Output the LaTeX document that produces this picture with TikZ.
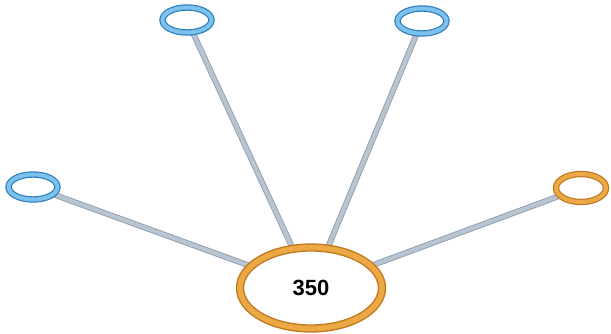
\documentclass[tikz,border=0pt]{standalone}
\usepackage{fontspec}
\setsansfont{Liberation Sans}
\usetikzlibrary{shapes.geometric}
\pgfdeclarelayer{bg}
\pgfsetlayers{bg,main}
\definecolor{bluedark}{HTML}{2F7DBD}
\definecolor{bluelight}{HTML}{7CC2EC}
\definecolor{orangedark}{HTML}{C07A1E}
\definecolor{orangelight}{HTML}{EBA845}
\definecolor{linkdark}{HTML}{8F9FAF}
\definecolor{linklight}{HTML}{B8C5D1}
\tikzset{
  bluering/.style={ellipse, draw=bluedark, line width=1.2pt, double=bluelight, double distance=4pt, fill=white, minimum width=49pt, minimum height=25pt, inner sep=0pt},
  orangering/.style={ellipse, draw=orangedark, line width=1.2pt, double=orangelight, double distance=4pt, fill=white, minimum width=50pt, minimum height=28pt, inner sep=0pt},
  hubring/.style={ellipse, draw=orangedark, line width=1.4pt, double=orangelight, double distance=5.5pt, fill=white, minimum width=142pt, minimum height=81pt, inner sep=0pt, font=\sffamily\bfseries\fontsize{22}{26}\selectfont},
  link/.style={draw=linkdark, line width=0.9pt, double=linklight, double distance=4pt}
}
\begin{document}
\begin{tikzpicture}[x=1pt,y=-1pt]
\useasboundingbox (0,0) rectangle (611,334);
\node[hubring] (hub) at (311,288) {350};
\node[bluering] (tl) at (187,20) {};
\node[bluering] (tr) at (422,21) {};
\node[bluering] (l) at (33,187) {};
\node[orangering] (r) at (581,188) {};
\begin{pgfonlayer}{bg}
\draw[link] (tl) -- (hub);
\draw[link] (tr) -- (hub);
\draw[link] (l) -- (hub);
\draw[link] (r) -- (hub);
\end{pgfonlayer}
\end{tikzpicture}
\end{document}
